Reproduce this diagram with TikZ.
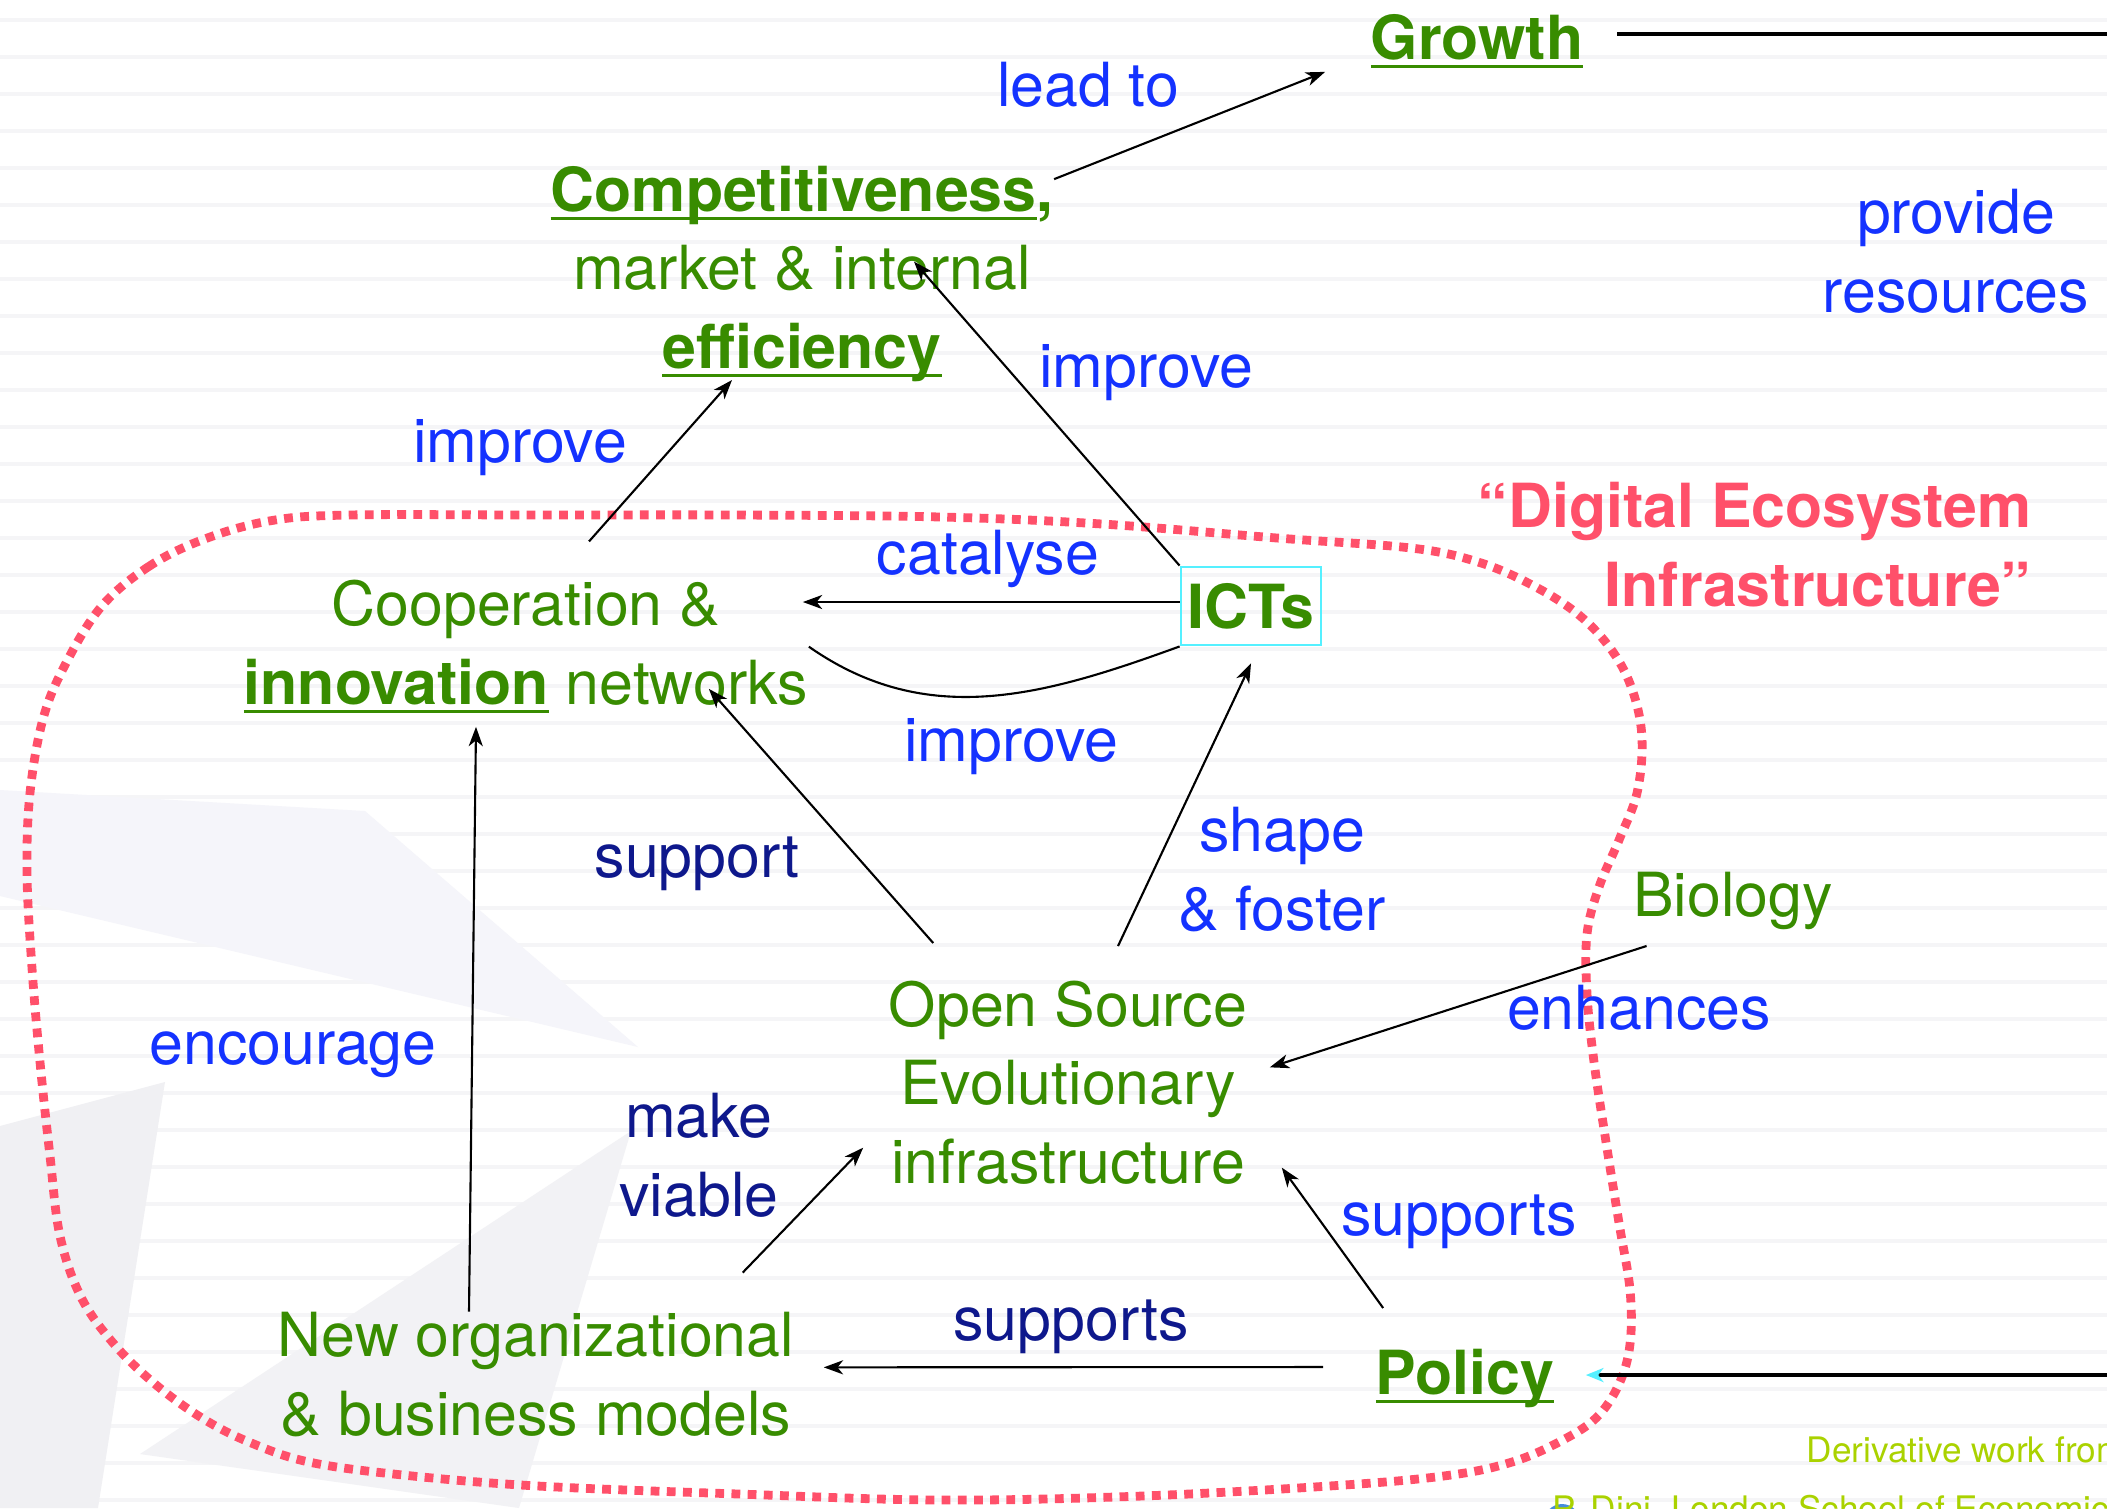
\documentclass[tikz,border=0pt]{standalone}
\usepackage{fontspec}
\setmainfont{TeX Gyre Heros}
\usetikzlibrary{arrows.meta}
\definecolor{leafgreen}{RGB}{56,140,0}
\definecolor{linkblue}{RGB}{20,50,255}
\definecolor{navyblue}{RGB}{14,24,140}
\definecolor{ecopink}{RGB}{255,80,106}
\definecolor{ictcyan}{RGB}{85,240,255}
\definecolor{creditgreen}{RGB}{170,210,0}
\definecolor{stripegray}{RGB}{245,245,247}
\definecolor{shapelav}{RGB}{245,245,250}
\definecolor{shapegray}{RGB}{240,240,243}
\definecolor{shapegrayb}{RGB}{242,242,245}
\definecolor{blobblue}{RGB}{70,140,220}
\newsavebox\kwbox
\def\keyword#1{\sbox\kwbox{\textbf{#1}}\rlap{\vrule width\wd\kwbox height -1.7pt depth 2.6pt}\usebox\kwbox}

\tikzset{
  txt/.style={inner sep=0pt, align=center, font=\fontsize{17.3}{22.3}\selectfont},
  concept/.style={txt, text=leafgreen},
  relation/.style={txt, text=linkblue},
  relationdark/.style={txt, text=navyblue},
  deco/.style={txt, font=\fontsize{17.3}{22.3}\selectfont\bfseries, text=ecopink, align=right},
  credit/.style={inner sep=0pt, font=\fontsize{10}{12}\selectfont, text=creditgreen, anchor=base west},
  arr/.style={line width=0.6pt, -{Stealth[length=5.5pt,width=4pt,inset=1.6pt]}},
  link/.style={line width=0.6pt},
  hline/.style={line width=1pt},
  stripe/.style={draw=stripegray, line width=0.9pt},
  ecoline/.style={draw=ecopink, line width=2.5pt, dash pattern=on 2.5pt off 2.1pt}
}

\begin{document}
\begin{tikzpicture}[x=0.01cm, y=0.01cm]
		%%%%% BACKGROUND %%%%%
		\fill[white] (0,0) rectangle (2107,-1508);
		\useasboundingbox (0,0) rectangle (2107,-1508);
		\foreach \y in {20,57,...,1500} \draw[stripe] (0,-\y) -- (2107,-\y);
		\fill[shapelav] (0,-790) -- (365,-811) -- (638,-1047) -- (0,-896) -- cycle;
		\fill[shapegray] (0,-1126) -- (165,-1082) -- (98,-1508) -- (0,-1508) -- cycle;
		\fill[shapegrayb] (631,-1131) -- (519,-1508) -- (140,-1454) -- cycle;
		
		%%%%% ECOSYSTEM BORDER %%%%%
		\draw[ecoline] plot[smooth cycle, tension=0.6] coordinates {
			(101,-607) (148,-567) (202,-540) (269,-521) (349,-515) (538,-515)
			(739,-515) (941,-517) (1102,-524) (1277,-538) (1411,-548) (1478,-562)
			(1532,-585) (1579,-615) (1613,-652) (1633,-692) (1642,-739) (1637,-793)
			(1619,-840) (1599,-887) (1587,-934) (1587,-994) (1594,-1062) (1606,-1142)
			(1619,-1223) (1630,-1290) (1630,-1344) (1619,-1384) (1596,-1418) (1559,-1442)
			(1512,-1462) (1451,-1475) (1344,-1485) (1142,-1496) (941,-1500) (739,-1494)
			(538,-1486) (403,-1475) (309,-1462) (249,-1442) (202,-1418) (155,-1384)
			(114,-1344) (81,-1297) (60,-1236) (50,-1156) (40,-1062) (32,-968)
			(27,-873) (30,-793) (43,-719) (65,-665)};
		\node[deco, anchor=base east] (eco) at (2032,-606) {“Digital Ecosystem\\Infrastructure”};
		
		%%%%% CONCEPTS %%%%%
		\node[concept, anchor=base] (growth) at (1477,-59) {\keyword{Growth}};
		\node[concept, anchor=base] (comp) at (802,-368) {\keyword{Competitiveness}\textbf{,}\\market \& internal\\\keyword{efficiency}};
		\node[concept, anchor=base] (coop) at (526,-704) {Cooperation \&\\\keyword{innovation} networks};
		\node[concept, anchor=center, draw=ictcyan, line width=0.8pt, minimum width=1.4cm, minimum height=0.78cm] (ict) at (1251,-606) {\textbf{ICTs}};
		\node[concept, anchor=base] (oss) at (1068,-1183) {Open Source\\Evolutionary\\infrastructure};
		\node[concept, anchor=base] (biology) at (1733,-916) {Biology};
		\node[concept, anchor=base] (neworg) at (536,-1435) {New organizational\\\& business models};
		\node[concept, anchor=base] (policy) at (1465,-1394) {\keyword{Policy}};
		
		%%%%% RELATIONS %%%%%
		\node[relation, anchor=base] (leadto) at (1088,-106) {lead to};
		\node[relation, anchor=base] (improveA) at (1146,-387) {improve};
		\node[relation, anchor=base] (improveB) at (520,-462) {improve};
		\node[relation, anchor=base] (catalyse) at (988,-574) {catalyse};
		\node[relation, anchor=base] (improveC) at (1011,-761) {improve};
		\node[relationdark, anchor=base] (support) at (697,-877) {support};
		\node[relation, anchor=base] (shape) at (1282,-930) {shape\\\& foster};
		\node[relation, anchor=base] (enhances) at (1639,-1029) {enhances};
		\node[relation, anchor=base] (encourage) at (293,-1064) {encourage};
		\node[relationdark, anchor=base] (viable) at (699,-1216) {make\\viable};
		\node[relation, anchor=base] (supportsA) at (1459,-1235) {supports};
		\node[relationdark, anchor=base] (supportsB) at (1071,-1340) {supports};
		\node[relation, anchor=base] (resources) at (1956,-312) {provide\\resources};
		
		%%%%% CONNECTORS %%%%%
		\coordinate (edgeG) at (2107,-34);
		\coordinate (edgeP) at (2107,-1375);
		\draw[arr] ([shift={(0,-14)}]comp.north east) -- ([shift={(-45,-3)}]growth.south west);
		\draw[hline, shorten >=0.33cm] (edgeG) -- (edgeG -| growth.east);
		\draw[arr] (ict.north west) -- ([shift={(112,12)}]comp.center);
		\draw[arr] ([shift={(63,38)}]coop.north) -- ([shift={(-70,2)}]comp.south);
		\draw[arr] ([shift={(0,4)}]ict.west) -- ([shift={(-6,4)}]ict.west -| coop.east);
		\draw[link] (coop.east) to[out=-35, in=200] (ict.south west);
		\draw[arr] ([shift={(45,37)}]oss.north west) -- ([shift={(-100,25)}]coop.south east);
		\draw[arr] ([shift={(50,34)}]oss.north) -- ([shift={(0,-17)}]ict.south);
		\draw[arr] ([shift={(14,-16)}]biology.south west) -- ([shift={(22,15)}]oss.east);
		\draw[arr] ([shift={(-67,0)}]neworg.north) -- ([shift={(-50,-13)}]coop.south);
		\draw[arr] ([shift={(-52,39)}]neworg.north east) -- ([shift={(-25,37)}]oss.south west);
		\draw[arr] ([shift={(8,40)}]policy.north west) -- ([shift={(34,17)}]oss.south east);
		\draw[arr] ([shift={(-52,11)}]policy.west) -- ([shift={(29,7)}]neworg.east);
		\draw[hline, -{Stealth[length=5pt,width=4pt,inset=1.5pt,color=ictcyan]}, shorten >=0.31cm] (edgeP) -- (edgeP -| policy.east);
		
		%%%%% CREDITS %%%%%
		\fill[blobblue] (1562,-1522) circle (18);
		\node[credit] (deriv) at (1806,-1462) {Derivative work from};
		\node[credit] (dini) at (1552,-1521) {P. Dini, London School of Economics};
\end{tikzpicture}
\end{document}
